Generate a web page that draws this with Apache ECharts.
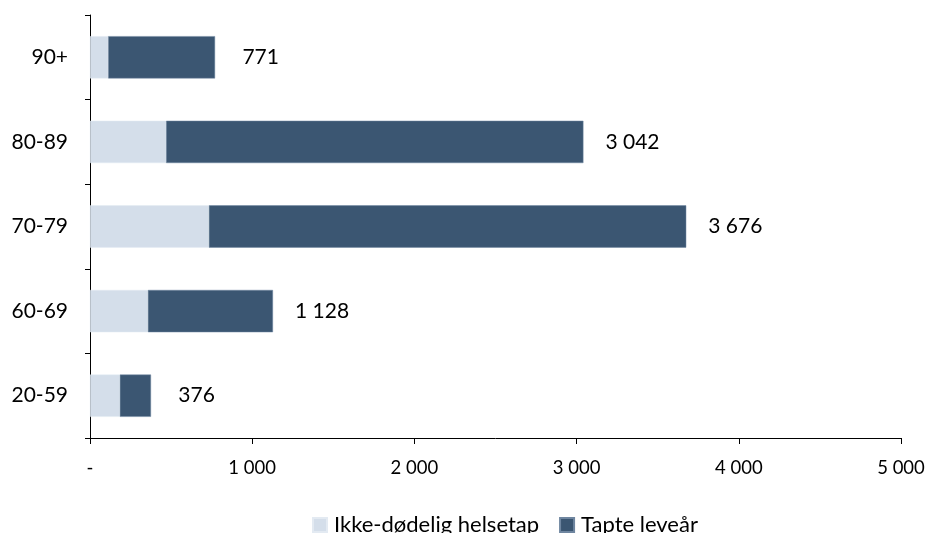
<!DOCTYPE html>
<html><head><meta charset="utf-8">
<script src="https://cdn.jsdelivr.net/npm/echarts@6/dist/echarts.min.js"></script>
<style>html,body{margin:0;padding:0;background:#fff}#c{width:930px;height:533px}</style>
</head><body><div id="c"></div>
<script>
var categories = ['20-59', '60-69', '70-79', '80-89', '90+'];
var ikkeDodelig = [184, 357, 733, 469, 112];
var totals = [376, 1128, 3676, 3042, 771];
var tapteLeveaar = [192, 771, 2943, 2573, 659];
var seriesNames = ['Ikke-dødelig helsetap', 'Tapte leveår'];
var xTicks = [0, 1000, 2000, 3000, 4000, 5000];

function fmt(v){ if(v===0) return '-'; return String(v).replace(/\B(?=(\d{3})+(?!\d))/g, ' '); }

var FONT = 'Lato, "Open Sans", sans-serif';
var chart = echarts.init(document.getElementById('c'), null, {renderer:'canvas'});
chart.setOption({
  animation: false,
  textStyle: {fontFamily: FONT},
  grid: {left: 90, right: 29, top: 15, bottom: 95, containLabel: false},
  legend: {
    top: 509, left: 307, itemWidth: 14, itemHeight: 14, itemGap: 20, icon: 'rect',
    textStyle: {fontSize: 22, color: '#000', fontFamily: FONT, padding: [0, 0, 0, 2]},
    data: seriesNames
  },
  xAxis: {
    type: 'value', min: 0, max: 5000, interval: 1000,
    axisLine: {show: true, lineStyle: {color: '#000', width: 1}},
    axisTick: {show: true, length: 6, lineStyle: {color: '#000'}},
    splitLine: {show: false},
    axisLabel: {formatter: fmt, fontSize: 18.5, color: '#000', margin: 21, fontFamily: FONT}
  },
  yAxis: {
    type: 'category', data: categories,
    axisLine: {show: true, lineStyle: {color: '#000', width: 1}},
    axisTick: {show: true, length: 5, lineStyle: {color: '#000'}},
    axisLabel: {fontSize: 21, color: '#000', margin: 22, fontFamily: FONT}
  },
  series: [
    {name: seriesNames[0], type: 'bar', stack: 't', data: ikkeDodelig, barWidth: '50%',
     itemStyle: {color: '#D4DEEA', borderColor: '#E3EAF2', borderWidth: 0.5}},
    {name: seriesNames[1], type: 'bar', stack: 't', data: tapteLeveaar, barWidth: '50%',
     itemStyle: {color: '#3B5672', borderColor: '#6F86A0', borderWidth: 0.5},
     label: {show: true, position: 'right', distance: 22, fontSize: 21, color: '#000', fontFamily: FONT,
       formatter: function(p){ var t = totals[p.dataIndex]; return (t < 1000 ? ' ' : '') + fmt(t); }}}
  ]
});
</script></body></html>
